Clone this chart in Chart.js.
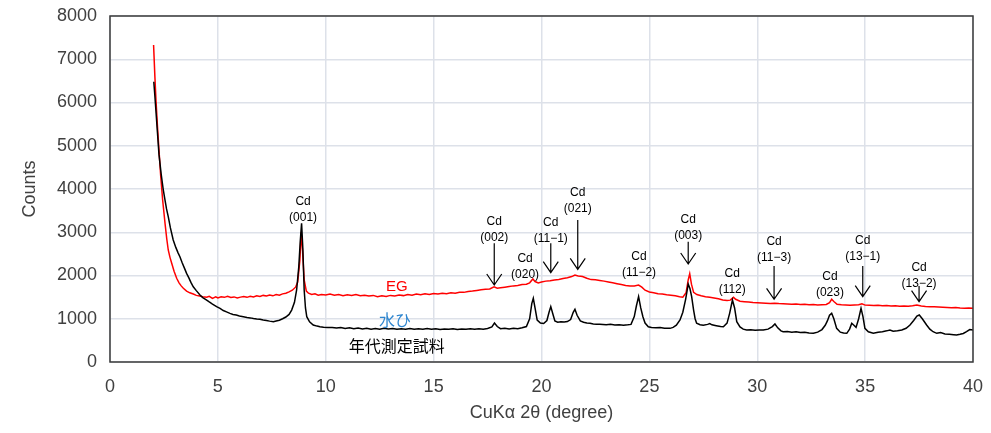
<!DOCTYPE html>
<html lang="ja">
<head>
<meta charset="utf-8">
<title>XRD</title>
<script src="https://cdn.jsdelivr.net/npm/chart.js@4/dist/chart.umd.min.js"></script>
<style>
  html, body { margin: 0; padding: 0; background: #fff; }
  #wrap { width: 991px; height: 433px; }
</style>
</head>
<body>
<div id="wrap"><canvas id="xrd" width="991" height="433"></canvas></div>
<script>
// 水ひ 年代測定試料 (black)
const suihiAngle = [
  2.03, 2.08, 2.13, 2.2, 2.27, 2.37, 2.47, 2.55, 2.62, 2.7, 2.8, 2.93, 3.05, 3.15, 3.24, 3.35, 3.45, 3.55, 3.65, 3.75,
  3.86, 4.0, 4.17, 4.3, 4.48, 4.6, 4.75, 4.94, 5.1, 5.25, 5.4, 5.56, 5.7, 5.85, 6.0, 6.18, 6.35, 6.5, 6.65, 6.8,
  6.95, 7.1, 7.25, 7.4, 7.57, 7.7, 7.85, 8.0, 8.15, 8.3, 8.42, 8.55, 8.65, 8.75, 8.82, 8.88, 8.94, 9.0, 9.06, 9.12,
  9.25, 9.42, 9.6, 9.73, 9.9, 10.1, 10.3, 10.5, 10.7, 10.9, 11.1, 11.3, 11.5, 11.7, 11.9, 12.1, 12.3, 12.5, 12.7, 12.9,
  13.1, 13.3, 13.5, 13.7, 13.9, 14.1, 14.3, 14.5, 14.7, 14.9, 15.1, 15.3, 15.5, 15.7, 15.9, 16.1, 16.3, 16.5, 16.7, 16.9,
  17.1, 17.3, 17.5, 17.7, 17.82, 17.95, 18.1, 18.3, 18.5, 18.7, 18.9, 19.1, 19.3, 19.45, 19.55, 19.62, 19.7, 19.8, 19.95, 20.1,
  20.25, 20.35, 20.43, 20.52, 20.62, 20.75, 20.9, 21.05, 21.2, 21.35, 21.47, 21.55, 21.65, 21.8, 21.95, 22.1, 22.25, 22.4, 22.55, 22.7,
  22.85, 23.0, 23.2, 23.4, 23.6, 23.8, 24.0, 24.15, 24.3, 24.4, 24.5, 24.6, 24.7, 24.8, 24.95, 25.1, 25.3, 25.5, 25.7, 25.96,
  26.1, 26.25, 26.42, 26.55, 26.68, 26.8, 26.88, 26.96, 27.05, 27.12, 27.19, 27.35, 27.5, 27.7, 27.8, 27.9, 28.1, 28.3, 28.43, 28.6,
  28.72, 28.85, 28.95, 29.05, 29.2, 29.35, 29.51, 29.7, 29.9, 30.1, 30.28, 30.5, 30.7, 30.82, 30.95, 31.1, 31.2, 31.4, 31.6, 31.8,
  32.0, 32.2, 32.4, 32.6, 32.8, 33.0, 33.15, 33.25, 33.35, 33.45, 33.55, 33.68, 33.85, 34.0, 34.15, 34.28, 34.38, 34.48, 34.58, 34.7,
  34.81, 34.9, 34.99, 35.15, 35.38, 35.6, 35.8, 36.0, 36.15, 36.3, 36.5, 36.7, 36.9, 37.08, 37.25, 37.4, 37.51, 37.65, 37.85, 38.0,
  38.15, 38.32, 38.5, 38.7, 38.9, 39.1, 39.24, 39.4, 39.55, 39.7, 39.85, 40.0
];
const suihiCounts = [
  6480, 6150, 5800, 5300, 4800, 4350, 3977, 3745, 3540, 3360, 3100, 2820, 2650, 2530, 2435, 2290, 2170, 2050, 1950, 1840,
  1740, 1650, 1550, 1490, 1433, 1390, 1340, 1280, 1240, 1190, 1160, 1125, 1100, 1085, 1065, 1048, 1030, 1020, 1005, 995,
  987, 970, 960, 945, 932, 950, 965, 1000, 1040, 1100, 1200, 1380, 1665, 2200, 2800, 3207, 2600, 1665, 1250, 1048,
  930, 855, 830, 816, 805, 795, 800, 785, 795, 775, 790, 770, 785, 765, 780, 760, 775, 760, 780, 765,
  775, 755, 770, 760, 775, 755, 770, 760, 775, 755, 770, 750, 765, 755, 770, 750, 765, 755, 770, 760,
  770, 760, 775, 810, 900, 820, 770, 780, 765, 780, 770, 790, 820, 1000, 1350, 1472, 1250, 970, 900, 890,
  960, 1150, 1280, 1120, 950, 920, 930, 925, 935, 980, 1150, 1218, 1080, 950, 920, 900, 895, 880, 875, 870,
  865, 860, 870, 855, 860, 850, 860, 870, 1050, 1300, 1510, 1250, 1048, 900, 816, 800, 790, 795, 780, 778,
  800, 850, 971, 1150, 1450, 1803, 1700, 1510, 1200, 1000, 895, 860, 850, 870, 890, 860, 840, 820, 816, 900,
  1125, 1433, 1250, 932, 810, 760, 740, 745, 735, 740, 740, 760, 820, 879, 790, 720, 701, 705, 690, 700,
  680, 690, 670, 663, 690, 750, 850, 950, 1080, 1125, 1000, 778, 690, 670, 663, 760, 895, 850, 800, 1000,
  1241, 1050, 778, 700, 663, 690, 700, 720, 740, 710, 720, 740, 780, 855, 960, 1060, 1087, 1000, 855, 760,
  700, 663, 680, 650, 640, 630, 624, 640, 660, 701, 750, 740
];

// EG (red)
const egAngle = [
  2.02, 2.08, 2.13, 2.2, 2.27, 2.35, 2.44, 2.55, 2.63, 2.7, 2.78, 2.86, 2.97, 3.09, 3.2, 3.3, 3.4, 3.55, 3.7, 3.86,
  4.0, 4.15, 4.3, 4.48, 4.6, 4.75, 4.9, 5.0, 5.15, 5.3, 5.45, 5.6, 5.75, 5.9, 6.05, 6.2, 6.35, 6.5, 6.65, 6.8,
  6.95, 7.1, 7.25, 7.4, 7.55, 7.7, 7.85, 8.0, 8.15, 8.3, 8.45, 8.6, 8.7, 8.8, 8.86, 8.92, 9.0, 9.1, 9.2, 9.35,
  9.5, 9.65, 9.8, 10.0, 10.2, 10.4, 10.6, 10.8, 11.0, 11.2, 11.4, 11.6, 11.8, 12.0, 12.2, 12.4, 12.6, 12.8, 13.0, 13.2,
  13.4, 13.6, 13.8, 14.0, 14.2, 14.4, 14.6, 14.8, 15.0, 15.2, 15.4, 15.6, 15.8, 16.0, 16.2, 16.4, 16.6, 16.8, 17.0, 17.2,
  17.4, 17.6, 17.8, 17.95, 18.1, 18.3, 18.5, 18.7, 18.9, 19.1, 19.3, 19.45, 19.6, 19.7, 19.85, 20.0, 20.2, 20.4, 20.6, 20.8,
  21.0, 21.2, 21.4, 21.55, 21.7, 21.9, 22.1, 22.3, 22.5, 22.7, 22.9, 23.1, 23.3, 23.5, 23.7, 23.9, 24.1, 24.3, 24.5, 24.65,
  24.8, 25.0, 25.2, 25.4, 25.6, 25.8, 26.0, 26.2, 26.4, 26.55, 26.7, 26.8, 26.87, 26.95, 27.05, 27.2, 27.4, 27.6, 27.8, 28.0,
  28.2, 28.4, 28.6, 28.75, 28.9, 29.0, 29.2, 29.4, 29.6, 29.8, 30.0, 30.2, 30.4, 30.6, 30.8, 31.0, 31.2, 31.4, 31.6, 31.8,
  32.0, 32.2, 32.4, 32.6, 32.8, 33.0, 33.2, 33.35, 33.45, 33.55, 33.7, 33.9, 34.1, 34.3, 34.5, 34.7, 34.85, 35.0, 35.2, 35.4,
  35.6, 35.8, 36.0, 36.2, 36.4, 36.6, 36.8, 37.0, 37.2, 37.4, 37.6, 37.8, 38.0, 38.2, 38.4, 38.6, 38.8, 39.0, 39.2, 39.4,
  39.6, 39.8, 40.0
];
const egCounts = [
  7330, 6600, 6060, 5450, 4900, 4300, 3745, 3207, 2850, 2590, 2420, 2282, 2100, 1935, 1830, 1760, 1704, 1640, 1600, 1572,
  1540, 1525, 1510, 1496, 1520, 1470, 1505, 1480, 1510, 1495, 1520, 1490, 1505, 1480, 1500, 1515, 1495, 1520, 1505, 1530,
  1515, 1540, 1525, 1550, 1530, 1560, 1545, 1575, 1590, 1620, 1660, 1730, 1850, 2350, 3000, 2600, 1900, 1640, 1590, 1560,
  1575, 1545, 1560, 1550, 1570, 1545, 1560, 1535, 1555, 1540, 1560, 1530, 1545, 1525, 1540, 1510, 1530, 1515, 1540, 1525,
  1550, 1535, 1560, 1545, 1570, 1555, 1575, 1560, 1585, 1570, 1590, 1580, 1600, 1590, 1615, 1610, 1630, 1640, 1655, 1670,
  1680, 1690, 1740, 1705, 1715, 1730, 1745, 1760, 1770, 1790, 1800, 1830, 1920, 1860, 1830, 1850, 1870, 1880, 1895, 1910,
  1930, 1950, 1975, 2010, 1990, 1975, 1935, 1905, 1900, 1885, 1870, 1850, 1830, 1810, 1790, 1770, 1755, 1760, 1780, 1730,
  1660, 1620, 1600, 1580, 1570, 1555, 1545, 1530, 1510, 1500, 1600, 1900, 2040, 1800, 1610, 1560, 1530, 1510, 1495, 1480,
  1460, 1435, 1420, 1430, 1495, 1450, 1405, 1395, 1385, 1375, 1370, 1365, 1360, 1355, 1360, 1350, 1345, 1340, 1335, 1340,
  1330, 1335, 1325, 1330, 1320, 1325, 1330, 1370, 1450, 1400, 1335, 1325, 1320, 1315, 1320, 1325, 1345, 1315, 1310, 1305,
  1310, 1300, 1305, 1295, 1300, 1290, 1295, 1290, 1300, 1315, 1295, 1285, 1280, 1275, 1270, 1265, 1260, 1255, 1260, 1250,
  1245, 1250, 1241
];

const xTickStep = 5;
const yTickStep = 1000;

// Cd ピークの注記（x: 2θ, y: "Cd" 行の高さ, arrow: 矢印の始点/終点 counts）
const peakNotes = [
  { hkl: '(001)', x: 8.95, y: 3700 },
  { hkl: '(002)', x: 17.81, y: 3244, arrow: [2745, 1780] },
  { hkl: '(020)', x: 19.24, y: 2382 },
  { hkl: '(11−1)', x: 20.43, y: 3230, arrow: [2745, 2065] },
  { hkl: '(021)', x: 21.68, y: 3924, arrow: [3283, 2143] },
  { hkl: '(11−2)', x: 24.52, y: 2435 },
  { hkl: '(003)', x: 26.8, y: 3300, arrow: [2782, 2266] },
  { hkl: '(112)', x: 28.84, y: 2051 },
  { hkl: '(11−3)', x: 30.78, y: 2782, arrow: [2220, 1450] },
  { hkl: '(023)', x: 33.37, y: 1972 },
  { hkl: '(13−1)', x: 34.89, y: 2805, arrow: [2220, 1510] },
  { hkl: '(13−2)', x: 37.5, y: 2180, arrow: [1757, 1394] }
];

const seriesNotes = [
  { text: 'EG', x: 13.29, y: 1741, color: '#ff0000', font: '15px "Liberation Sans", Arial, sans-serif' },
  { text: '水ひ', x: 13.21, y: 971, color: '#2f86cf', font: '16px "Noto Sans CJK JP", sans-serif' },
  { text: '年代測定試料', x: 13.29, y: 370, color: '#000000', font: '16px "Noto Sans CJK JP", sans-serif' }
];

function toPoints(xs, ys) {
  return xs.map((x, i) => ({ x: x, y: ys[i] }));
}

// 枠線と注記
const notesPlugin = {
  id: 'notes',
  afterDatasetsDraw(chart) {
    const ctx = chart.ctx;
    const xs = chart.scales.x;
    const ys = chart.scales.y;
    const a = chart.chartArea;

    ctx.save();
    ctx.strokeStyle = '#3a3a3a';
    ctx.lineWidth = 1.5;
    ctx.strokeRect(a.left, a.top, a.right - a.left, a.bottom - a.top);

    ctx.textAlign = 'center';
    ctx.textBaseline = 'middle';
    ctx.fillStyle = '#000';
    ctx.strokeStyle = '#000';
    ctx.lineWidth = 1.2;
    ctx.font = '12px "Liberation Sans", Arial, sans-serif';
    peakNotes.forEach(n => {
      const px = xs.getPixelForValue(n.x);
      const py = ys.getPixelForValue(n.y);
      ctx.fillText('Cd', px, py);
      ctx.fillText(n.hkl, px, py + 16);
      if (n.arrow) {
        const y0 = ys.getPixelForValue(n.arrow[0]);
        const y1 = ys.getPixelForValue(n.arrow[1]);
        ctx.beginPath();
        ctx.moveTo(px, y0);
        ctx.lineTo(px, y1);
        ctx.moveTo(px - 7.5, y1 - 11);
        ctx.lineTo(px, y1);
        ctx.lineTo(px + 7.5, y1 - 11);
        ctx.stroke();
      }
    });

    seriesNotes.forEach(n => {
      ctx.font = n.font;
      ctx.fillStyle = n.color;
      ctx.fillText(n.text, xs.getPixelForValue(n.x), ys.getPixelForValue(n.y));
    });
    ctx.restore();
  }
};

const majorGrid = '#dde1e9';
const minorGrid = '#eef0f4';
const tickFont = { family: '"Liberation Sans", Arial, sans-serif', size: 18 };

new Chart(document.getElementById('xrd'), {
  type: 'line',
  data: {
    datasets: [
      {
        label: '水ひ 年代測定試料',
        data: toPoints(suihiAngle, suihiCounts),
        borderColor: '#000000',
        borderWidth: 1.5,
        pointRadius: 0,
        tension: 0
      },
      {
        label: 'EG',
        data: toPoints(egAngle, egCounts),
        borderColor: '#ff0000',
        borderWidth: 1.5,
        pointRadius: 0,
        tension: 0
      }
    ]
  },
  options: {
    responsive: false,
    animation: false,
    layout: { padding: { top: 16, right: 18, left: 0, bottom: 0 } },
    plugins: {
      legend: { display: false },
      tooltip: { enabled: false }
    },
    scales: {
      x: {
        type: 'linear',
        min: 0,
        max: 40,
        afterFit: s => {
          s.height = 71;
          s.paddingLeft = 0;
          s.paddingRight = 0;
        },
        border: { display: false },
        grid: {
          drawTicks: false,
          color: c => (c.tick && c.tick.value % xTickStep === 0) ? majorGrid : minorGrid,
          lineWidth: c => (c.tick && c.tick.value % xTickStep === 0) ? 1.5 : 1
        },
        ticks: {
          stepSize: 1,
          autoSkip: false,
          maxRotation: 0,
          padding: 14,
          color: '#404040',
          font: tickFont,
          callback: v => v % xTickStep === 0 ? v : null
        },
        title: {
          display: true,
          text: 'CuKα 2θ (degree)',
          color: '#404040',
          font: tickFont,
          padding: { top: 0, bottom: 9 }
        }
      },
      y: {
        min: 0,
        max: 8000,
        afterFit: s => {
          s.width = 110;
          s.paddingTop = 0;
          s.paddingBottom = 0;
        },
        border: { display: false },
        grid: {
          drawTicks: false,
          color: c => (c.tick && c.tick.value % yTickStep === 0) ? majorGrid : minorGrid,
          lineWidth: c => (c.tick && c.tick.value % yTickStep === 0) ? 1.5 : 1
        },
        ticks: {
          stepSize: 200,
          autoSkip: false,
          padding: 13,
          color: '#404040',
          font: tickFont,
          callback: v => v % yTickStep === 0 ? v : null
        },
        title: {
          display: true,
          text: 'Counts',
          color: '#404040',
          font: tickFont,
          padding: { top: 19, bottom: 0 }
        }
      }
    }
  },
  plugins: [notesPlugin]
});
</script>
</body>
</html>
